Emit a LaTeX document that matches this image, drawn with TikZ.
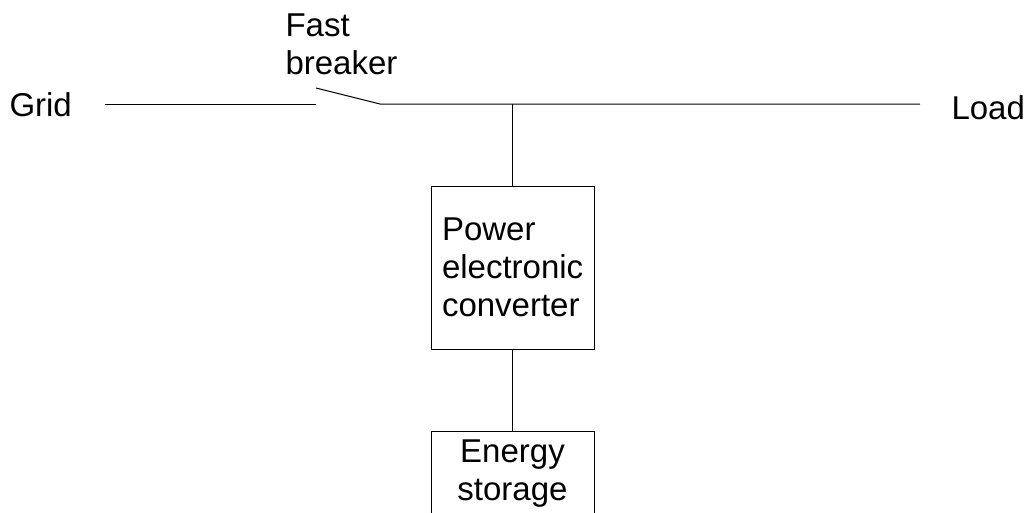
\documentclass[tikz,border=0pt]{standalone}
\usepackage{fontspec}
\setmainfont{Liberation Sans}
\usetikzlibrary{positioning}

\begin{document}
\begin{tikzpicture}[x=1pt,y=-1pt,line width=1pt,
  lbl/.style={inner sep=0pt,font=\fontsize{33}{38}\selectfont},
  blockbox/.style={draw,text width=141pt,inner xsep=11pt,font=\fontsize{33}{38}\selectfont}]
\useasboundingbox (0,0) rectangle (1028,512);
\node[lbl,anchor=base west] (grid) at (9,116) {Grid};
\node[lbl,anchor=base west] (load) at (951,119) {Load};
\node[lbl,anchor=north west,align=left] (brklabel) at (285,13.4) {Fast\\breaker};
\coordinate (gridend) at (105,104);
\coordinate (brkL) at (316,104);
\coordinate (blade) at (316,88);
\coordinate (brkR) at (380,104);
\coordinate (bus) at (512.5,104);
\coordinate (loadend) at (920,104);
\node[blockbox,align=left,minimum height=163pt] (conv) at (512.5,267.5) {Power\\electronic\\converter};
\node[blockbox,align=center,inner ysep=8pt,anchor=north] (store) at (512.5,431) {Energy\\storage};
\draw (gridend) -- (brkL);
\draw (blade) -- (brkR) -- (loadend);
\draw (bus) -- (conv.north);
\draw (conv.south) -- (store.north);
\end{tikzpicture}
\end{document}
